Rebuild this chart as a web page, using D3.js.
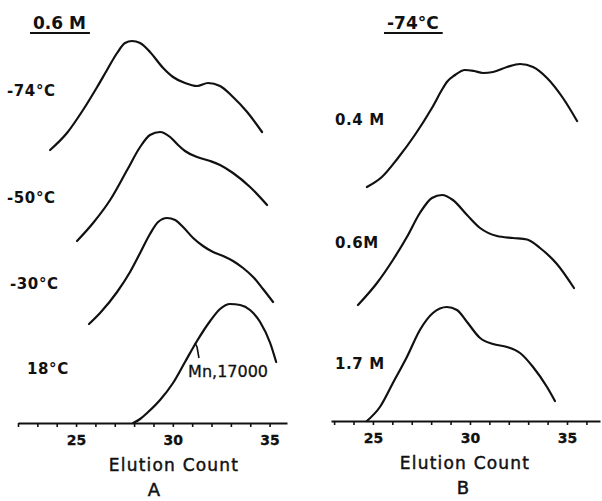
<!DOCTYPE html>
<html>
<head>
<meta charset="utf-8">
<script src="https://cdn.jsdelivr.net/npm/d3@7/dist/d3.min.js"></script>
<style>
  html, body { margin: 0; padding: 0; background: #fff; }
  svg { display: block; }
  text { font-family: "DejaVu Sans", sans-serif; fill: #111; }
</style>
</head>
<body>
<svg id="chart" width="602" height="501"></svg>
<script>
// GPC elution traces, stacked with a vertical offset per trace (arbitrary detector units)
// Panel A: 0.6 M at several temperatures
const tempLabels = ["-74°C", "-50°C", "-30°C", "18°C"];
const tempOffsets = [26, 17, 9, 0];
const tracem74 = [[23.66,1.3],[24.53,3.0],[25.36,5.3],[26.09,7.6],[26.60,9.3],[27.12,11.0],[27.53,12.0],[27.89,12.2],[28.31,12.0],[28.82,11.1],[29.50,9.5],[30.01,8.6],[30.63,8.0],[31.25,7.7],[31.82,8.0],[32.44,7.7],[33.11,6.6],[33.84,5.1],[34.61,3.1]];
const tracem50 = [[25.05,1.2],[25.88,3.0],[26.76,5.3],[27.64,8.3],[28.31,10.6],[28.82,11.8],[29.34,12.1],[29.86,11.6],[30.27,10.8],[30.63,10.2],[31.25,9.6],[31.93,9.2],[32.44,8.8],[33.11,8.0],[33.99,6.6],[34.87,4.8]];
const tracem30 = [[25.67,0.9],[26.24,2.0],[27.12,4.1],[27.79,6.1],[28.31,8.0],[28.82,9.9],[29.24,11.1],[29.70,11.5],[30.12,11.3],[30.53,10.6],[31.05,9.5],[31.56,8.7],[32.08,8.1],[32.60,7.7],[33.11,7.2],[33.63,6.5],[34.15,5.6],[34.66,4.4],[35.18,3.1]];
const trace18 = [[27.95,0],[28.31,0.4],[28.67,1.0],[29.34,2.3],[30.01,4.0],[30.63,6.1],[31.25,8.2],[31.93,10.2],[32.44,11.4],[32.96,11.9],[33.48,11.8],[33.99,11.3],[34.51,10.1],[35.03,8.0],[35.34,6.1]];
const tempTraces = [tracem74, tracem50, tracem30, trace18];

// Panel B: -74°C at several concentrations
const concLabels = ["0.4 M", "0.6M", "1.7 M"];
const concOffsets = [23, 11, 0];
const trace04 = [[24.69,0.4],[25.46,1.4],[26.29,3.3],[27.16,5.6],[28.04,8.3],[28.61,10.3],[28.81,10.9],[29.23,11.6],[29.74,12.1],[30.2,12.0],[30.67,11.8],[31.19,11.9],[31.91,12.4],[32.58,12.7],[33.25,12.4],[33.97,11.3],[34.79,9.3],[35.52,7.0]];
const trace06 = [[24.23,0.6],[25.21,2.8],[26.03,5.1],[26.75,7.4],[27.42,9.8],[28.04,11.3],[28.56,11.6],[29.12,11.1],[29.85,9.6],[30.52,8.3],[31.39,7.5],[32.22,7.3],[32.94,7.15],[33.61,6.3],[34.48,4.7],[35.36,2.3]];
const trace17 = [[24.69,0],[25.36,1.4],[26.03,3.8],[26.75,6.4],[27.42,9.1],[28.09,10.8],[28.81,11.4],[29.33,11.1],[29.85,9.9],[30.52,8.3],[31.19,7.7],[31.91,7.4],[32.58,6.8],[33.25,5.4],[33.97,3.4],[34.38,2.0]];
const concTraces = [trace04, trace06, trace17];

const tickLabels = [25, 30, 35];
const mnLabel = "Mn,17000";
const mnCount = 31.2;

const svg = d3.select("#chart");

function panel(cfg) {
  const g = svg.append("g");
  const x = d3.scaleLinear().domain(cfg.xDomain).range(cfg.xRange);
  const y = d3.scaleLinear().domain([0, 40]).range([cfg.axisY, cfg.axisY - 400]);

  // axis with unit minor ticks, numbered every 5
  const ticks = d3.range(Math.ceil(cfg.xDomain[0]), Math.floor(cfg.xDomain[1]) + 1);
  const axis = d3.axisBottom(x)
    .tickValues(ticks)
    .tickSize(4)
    .tickSizeOuter(0)
    .tickPadding(8)
    .tickFormat(d => tickLabels.includes(d) ? d : "");
  const ag = g.append("g").attr("transform", `translate(0,${cfg.axisY})`).call(axis);
  ag.select(".domain").attr("stroke", "#111").attr("stroke-width", 2.2);
  ag.selectAll(".tick line").attr("stroke", "#111").attr("stroke-width", 1.6);
  ag.selectAll(".tick text")
    .attr("font-family", "DejaVu Sans, sans-serif")
    .attr("font-size", 14).attr("font-weight", "bold").attr("fill", "#111")
    .attr("stroke", "#111").attr("stroke-width", 0.3);

  g.append("text")
    .attr("x", cfg.xLabelX).attr("y", cfg.axisY + 48)
    .attr("text-anchor", "middle")
    .attr("font-size", 17).attr("letter-spacing", 1.2)
    .attr("stroke", "#111").attr("stroke-width", 0.45)
    .text("Elution Count");

  g.append("text")
    .attr("x", cfg.letterX).attr("y", cfg.axisY + 73)
    .attr("text-anchor", "middle")
    .attr("font-size", 18).attr("stroke", "#111").attr("stroke-width", 0.45)
    .text(cfg.letter);

  // title, underlined
  const t = g.append("text")
    .attr("x", cfg.titleX).attr("y", 29)
    .attr("font-size", 17).attr("font-weight", "bold")
    .text(cfg.title);
  const bb = t.node().getBBox();
  g.append("line")
    .attr("x1", bb.x - 3).attr("x2", bb.x + bb.width + 4)
    .attr("y1", 33).attr("y2", 33)
    .attr("stroke", "#111").attr("stroke-width", 2);

  const line = d3.line()
    .x(d => x(d[0]))
    .y(d => y(d[1]))
    .curve(d3.curveMonotoneX);

  cfg.traces.forEach((tr, i) => {
    const off = cfg.offsets[i];
    g.append("path")
      .datum(tr.map(p => [p[0], p[1] + off]))
      .attr("d", line)
      .attr("fill", "none")
      .attr("stroke", "#111")
      .attr("stroke-width", 2.2)
      .attr("stroke-linecap", "round");

    g.append("text")
      .attr("x", cfg.labelX[i]).attr("y", cfg.labelY[i])
      .attr("font-size", 15).attr("font-weight", "bold")
      .attr("letter-spacing", 0.6)
      .text(cfg.labels[i]);
  });
  return { g, x, y };
}

const A = panel({
  xDomain: [22, 35.9], xRange: [18, 287], axisY: 423,
  traces: tempTraces, offsets: tempOffsets, labels: tempLabels,
  labelX: [7, 7, 10, 27], labelY: [96, 203, 289, 374],
  title: "0.6 M", titleX: 33, xLabelX: 174, letter: "A", letterX: 154
});

const B = panel({
  xDomain: [22.84, 36.7], xRange: [331, 600], axisY: 421,
  traces: concTraces, offsets: concOffsets, labels: concLabels,
  labelX: [335, 335, 335], labelY: [125, 248, 369],
  title: "-74°C", titleX: 387, xLabelX: 465, letter: "B", letterX: 463
});

// number-average marker on the 18°C trace
A.g.append("path")
  .attr("d", `M${A.x(mnCount) - 1},${A.y(8.0)} L${A.x(mnCount) + 1},${A.y(7.6)} L${A.x(mnCount + 0.15)},${A.y(6.5)}`)
  .attr("fill", "none").attr("stroke", "#111").attr("stroke-width", 1.6);
A.g.append("text")
  .attr("x", A.x(30.79)).attr("y", A.y(4.6))
  .attr("font-size", 16).attr("stroke", "#111").attr("stroke-width", 0.3)
  .text(mnLabel);
</script>
</body>
</html>
